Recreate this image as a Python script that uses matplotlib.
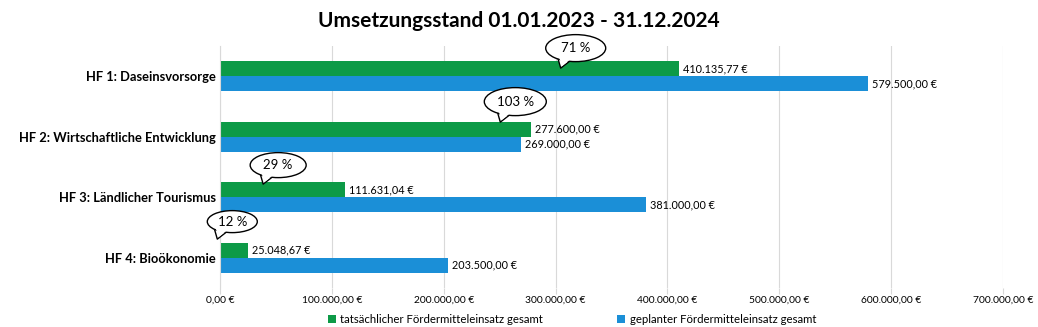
import matplotlib
matplotlib.use("Agg")
import matplotlib.pyplot as plt
import matplotlib.transforms as mtransforms
from matplotlib.patches import Ellipse, Polygon
from matplotlib.ticker import FuncFormatter
import numpy as np

plt.rcParams['font.family'] = ['Lato', 'DejaVu Sans']

categories = ["HF 1: Daseinsvorsorge", "HF 2: Wirtschaftliche Entwicklung",
              "HF 3: Ländlicher Tourismus", "HF 4: Bioökonomie"]
actual = [410135.77, 277600.00, 111631.04, 25048.67]
planned = [579500.00, 269000.00, 381000.00, 203500.00]
percent = ["71 %", "103 %", "29 %", "12 %"]

# bubble layout: centre x (data), centre height above bar top (px), size (px)
bubble_x = [318000, 264000, 52000, 11000]
bubble_up = [13, 20, 17, 21]
bubble_w = [60, 62, 56, 50]
bubble_h = [27, 28, 25, 22]

green = "#0d9a47"
blue = "#1b8fd7"


def euro(v, pos=None):
    s = f"{v:,.2f}"
    s = s.replace(",", "X").replace(".", ",").replace("X", ".")
    return s + " €"


fig = plt.figure(figsize=(10.38, 3.27), dpi=100)
ax = fig.add_axes([220/1038, 1-288/327, 783/1038, 242/327])

y = np.arange(len(categories))
h = 0.25
ax.barh(y - h/2, actual, height=h, color=green, label="tatsächlicher Fördermitteleinsatz gesamt", zorder=2)
ax.barh(y + h/2, planned, height=h, color=blue, label="geplanter Fördermitteleinsatz gesamt", zorder=2)

for i in range(len(categories)):
    ax.annotate(euro(actual[i]), (actual[i], y[i] - h/2), xytext=(3, 0),
                textcoords="offset points", va="center", ha="left", fontsize=7.8)
    ax.annotate(euro(planned[i]), (planned[i], y[i] + h/2), xytext=(3, 0),
                textcoords="offset points", va="center", ha="left", fontsize=7.8)

ax.set_xlim(0, 700000)
ax.set_ylim(len(categories) - 0.5, -0.5)
ax.set_yticks(y)
ax.set_yticklabels(categories, fontweight="bold", fontsize=9.3)
ax.xaxis.set_major_formatter(FuncFormatter(euro))
ax.set_xticks(np.arange(0, 700001, 100000))
ax.tick_params(axis="x", labelsize=7.4, length=4, color="#d9d9d9", pad=1.5)
ax.tick_params(axis="y", length=0, pad=3)
ax.grid(axis="x", color="#d9d9d9", lw=0.8, zorder=0)
for s in ["top", "right", "bottom"]:
    ax.spines[s].set_visible(False)
ax.spines["left"].set_color("#d9d9d9")

# speech bubbles (sizes in px -> inches at dpi 100)
for i in range(len(categories)):
    off = mtransforms.ScaledTranslation(bubble_x[i], y[i] - h, ax.transData)
    tr = fig.dpi_scale_trans + off
    w = bubble_w[i] / 100
    eh = bubble_h[i] / 100
    cy = bubble_up[i] / 100
    bot = cy - eh / 2
    tip = (-0.15, bot - 0.065)
    tail = [(-0.18, bot + 0.04), tip, (-0.04, bot + 0.02)]
    ax.add_patch(Polygon(tail, closed=True, transform=tr, facecolor="white",
                         edgecolor="black", lw=1, zorder=4, clip_on=False,
                         joinstyle="round"))
    ax.add_patch(Ellipse((0, cy), w, eh, transform=tr, facecolor="white",
                         edgecolor="black", lw=1, zorder=5, clip_on=False))
    cover = [(-0.165, bot + 0.04), (tip[0] + 0.012, bot - 0.045), (-0.05, bot + 0.025)]
    ax.add_patch(Polygon(cover, closed=True, transform=tr, facecolor="white",
                         edgecolor="none", zorder=6, clip_on=False))
    ax.text(0, cy, percent[i], transform=tr, ha="center", va="center",
            fontsize=9.5, zorder=7)

fig.suptitle("Umsetzungsstand 01.01.2023 - 31.12.2024", fontsize=15,
             fontweight="bold", y=0.965)

leg = fig.legend(loc="lower center", bbox_to_anchor=(0.551, -0.025), ncol=2,
                 frameon=False, handlelength=0.7, handleheight=0.7,
                 handletextpad=0.4, columnspacing=6.5, fontsize=8.2)

fig.savefig("out.png", dpi=100)
